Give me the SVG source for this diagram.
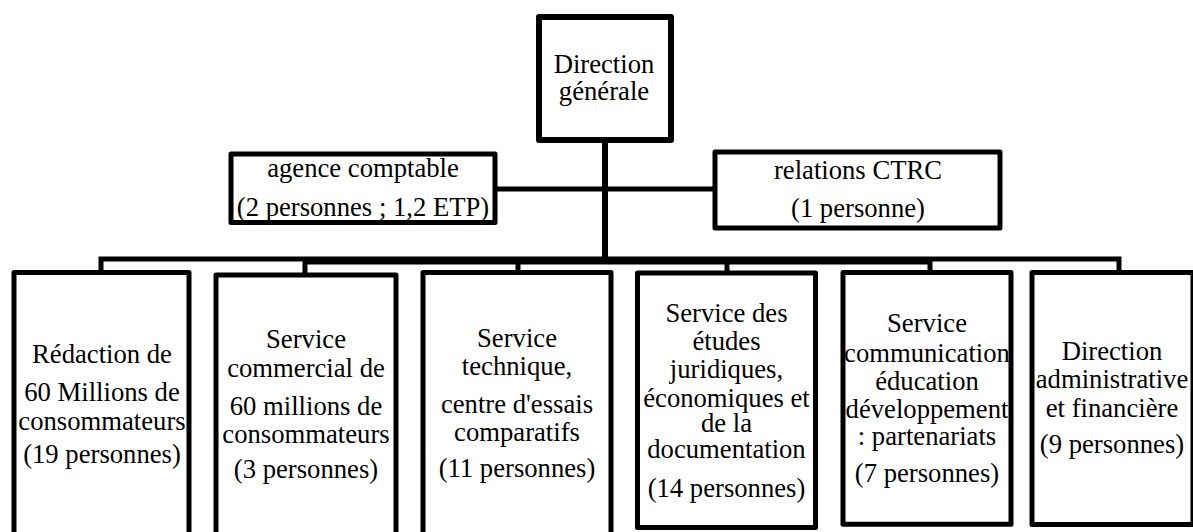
<svg xmlns="http://www.w3.org/2000/svg" width="1193" height="532" viewBox="0 0 1193 532">
<style>
.box{fill:#fff;stroke:#000;stroke-width:5;stroke-linejoin:round}
.ln{fill:none;stroke:#000;stroke-width:5}
text{font-family:"Liberation Serif","Times New Roman",serif;font-size:26.67px;fill:#000;text-anchor:middle}
</style>
<rect width="1193" height="532" fill="#fff"/>
<g id="connectors">
<line class="ln" x1="605" y1="140" x2="605" y2="262" style="stroke-width:6"/>
<line class="ln" x1="495" y1="189" x2="605" y2="189"/>
<line class="ln" x1="605" y1="189" x2="716" y2="189"/>
<path class="ln" d="M101 272 V259 H1119 V272"/>
<line class="ln" x1="303" y1="262" x2="930" y2="262"/>
<line class="ln" x1="305" y1="262" x2="305" y2="275"/>
<line class="ln" x1="518" y1="262" x2="518" y2="272"/>
<line class="ln" x1="727" y1="262" x2="727" y2="273"/>
<line class="ln" x1="930" y1="259" x2="930" y2="272"/>
</g>
<g id="direction-generale">
<rect class="box" x="539" y="17" width="132" height="123" style="stroke-width:6"/>
<text x="604" y="73">Direction</text>
<text x="604" y="100">générale</text>
</g>
<g id="agence-comptable">
<rect class="box" x="231" y="154" width="264" height="68.5"/>
<text x="363" y="177">agence comptable</text>
<text x="363" y="216">(2 personnes ; 1,2 ETP)</text>
</g>
<g id="relations-ctrc">
<rect class="box" x="715" y="152" width="285" height="76"/>
<text x="858" y="179">relations CTRC</text>
<text x="858" y="217">(1 personne)</text>
</g>
<g id="redaction">
<rect class="box" x="14" y="272.5" width="175" height="280"/>
<text x="102" y="363">Rédaction de</text>
<text x="102" y="401">60 Millions de</text>
<text x="102" y="430">consommateurs</text>
<text x="102" y="463">(19 personnes)</text>
</g>
<g id="service-commercial">
<rect class="box" x="216" y="275" width="180" height="280"/>
<text x="306" y="348">Service</text>
<text x="306" y="377">commercial de</text>
<text x="306" y="415">60 millions de</text>
<text x="306" y="443">consommateurs</text>
<text x="306" y="478">(3 personnes)</text>
</g>
<g id="service-technique">
<rect class="box" x="423" y="272.5" width="188" height="280"/>
<text x="517" y="347">Service</text>
<text x="517" y="375">technique,</text>
<text x="517" y="413">centre d'essais</text>
<text x="517" y="441">comparatifs</text>
<text x="517" y="477">(11 personnes)</text>
</g>
<g id="service-etudes">
<rect class="box" x="637.5" y="273" width="178" height="254.5"/>
<text x="726.5" y="322">Service des</text>
<text x="726.5" y="350">études</text>
<text x="726.5" y="378">juridiques,</text>
<text x="726.5" y="407">économiques et</text>
<text x="726.5" y="432">de la</text>
<text x="726.5" y="458">documentation</text>
<text x="726.5" y="497">(14 personnes)</text>
</g>
<g id="service-communication">
<rect class="box" x="843" y="272.5" width="168" height="251.7"/>
<text x="927" y="332">Service</text>
<text x="927" y="362">communication</text>
<text x="927" y="390">éducation</text>
<text x="927" y="418">développement</text>
<text x="927" y="445">: partenariats</text>
<text x="927" y="482">(7 personnes)</text>
</g>
<g id="direction-administrative">
<rect class="box" x="1032" y="272.5" width="161" height="252"/>
<text x="1112" y="360">Direction</text>
<text x="1112" y="388">administrative</text>
<text x="1112" y="417">et financière</text>
<text x="1112" y="453">(9 personnes)</text>
</g>
</svg>
